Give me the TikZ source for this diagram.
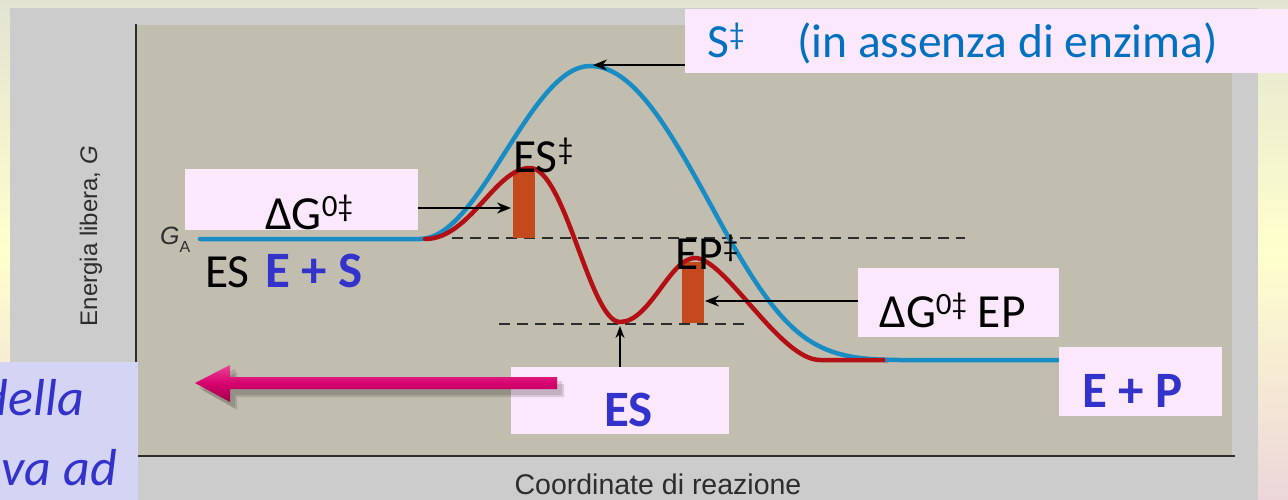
\documentclass[tikz,border=0pt]{standalone}
\usepackage{fontspec}
\setmainfont{Carlito}
\newfontfamily\arialf{Liberation Sans}
\usetikzlibrary{arrows.meta}
\definecolor{bgtop}{RGB}{227,227,211}
\definecolor{bgmid}{RGB}{255,255,205}
\definecolor{bgbot}{RGB}{236,214,218}
\definecolor{panel}{RGB}{204,204,204}
\definecolor{plotbg}{RGB}{193,190,175}
\definecolor{curveblue}{RGB}{25,140,195}
\definecolor{curvered}{RGB}{180,15,20}
\definecolor{barorange}{RGB}{196,73,28}
\definecolor{pinkbox}{RGB}{252,232,252}
\definecolor{lavbox}{RGB}{212,212,244}
\definecolor{txtblue}{RGB}{51,51,204}
\definecolor{sblue}{RGB}{0,112,192}
\definecolor{magA}{RGB}{235,70,150}
\definecolor{magB}{RGB}{214,0,110}
\definecolor{magC}{RGB}{160,0,75}
\definecolor{axisgray}{RGB}{45,45,45}
\newcommand\supdg{\raisebox{13pt}{\fontsize{31}{31}\selectfont 0‡}}
\newcommand\supd{\raisebox{13pt}{\fontsize{31}{31}\selectfont ‡}}
\begin{document}
\begin{tikzpicture}[x=1pt,y=-1pt,
  big/.style={font=\fontsize{47.5}{50}\selectfont, inner sep=0pt, anchor=base west},
  bigbold/.style={font=\fontsize{51}{54}\selectfont\bfseries, text=txtblue, inner sep=0pt, anchor=base west},
  pbox/.style={fill=pinkbox, draw=none},
  curve/.style={line width=4.5pt, line cap=round, line join=round},
  ptr/.style={line width=1.8pt, -{Stealth[length=14pt,width=11pt]}},
  dline/.style={line width=1.6pt, axisgray, dash pattern=on 11pt off 7pt},
  axisline/.style={line width=2pt, axisgray},
  barfill/.style={fill=barorange, draw=none},
  lavtxt/.style={font=\fontsize{52}{54}\selectfont\itshape, text=txtblue, anchor=base east, inner sep=0pt}]
\useasboundingbox (0,0) rectangle (1288,500);
% background
\fill[top color=bgtop, bottom color=bgbot, middle color=bgmid] (0,0) rectangle (1288,500);
\fill[panel] (10,8) rectangle (1258,500);
\fill[plotbg] (137,25) rectangle (1232,455);
% axes
\draw[axisline] (136,24) -- (136,456) -- (1235,456);
\node[font=\fontsize{24}{24}\selectfont\arialf, text=axisgray, rotate=90, anchor=base, inner sep=0pt] (ylab) at (97,236) {Energia libera, \textit{G}};
\node[font=\fontsize{28.5}{28.5}\selectfont\arialf, text=axisgray, anchor=base, inner sep=0pt] (xlab) at (658,494) {Coordinate di reazione};
\node[font=\fontsize{25}{25}\selectfont\arialf, text=axisgray, anchor=base west, inner sep=0pt] (ga) at (160,244) {\textit{G}\raisebox{-8pt}{\fontsize{16}{16}\selectfont A}};
% dashed lines
\coordinate (d1a) at (452,238); \coordinate (d1b) at (965,238);
\coordinate (d2a) at (499,324); \coordinate (d2b) at (747,324);
\draw[dline] (d1a) -- (d1b);
\draw[dline] (d2a) -- (d2b);
% bars
\fill[barfill] (513,172) rectangle (535,238);
\fill[barfill] (682,262) rectangle (704,323);
% blue curve
\draw[curve, curveblue] (200,239) -- (420,239) .. controls (480,239) and (530,66) .. (590,66)
  .. controls (640,66) and (680,150) .. (730,240)
  .. controls (790,345) and (820,360) .. (900,360) -- (1058,360);
% red curve
\draw[curve, curvered] (425,239) .. controls (470,239) and (495,168) .. (530,168)
  .. controls (565,168) and (590,322) .. (620,322)
  .. controls (650,322) and (670,258) .. (695,258)
  .. controls (725,258) and (780,360) .. (820,360) -- (888,360);
% blue overlays red at flat end
\draw[line width=4.5pt, curveblue] (885,360) -- (1058,360);
% labels on curves
\node[big] (esd) at (513,172) {ES\supd};
\node[big] (epd) at (675,269) {EP\supd};
\node[big] (es0) at (205,287) {ES};
\node[bigbold] (es1) at (265,287) {E + S};
% pink boxes
\node[pbox, minimum width=603pt, minimum height=64pt, anchor=north west, inner sep=0pt] (sbox) at (685,9) {};
\node[big, text=sblue] (stxt) at (707,58) {\makebox[90pt][l]{S\supd}(in assenza di enzima)};
\node[pbox, minimum width=233pt, minimum height=61pt, anchor=north west, inner sep=0pt] (gbox) at (185,169) {};
\node[big] (gtxt) at (265,229) {ΔG\supdg};
\node[pbox, minimum width=201pt, minimum height=69pt, anchor=north west, inner sep=0pt] (epbox) at (858,268) {};
\node[big] (eptxt) at (879,327) {ΔG\supdg{} EP};
\node[pbox, minimum width=163pt, minimum height=69pt, anchor=north west, inner sep=0pt] (epbox2) at (1059,347) {};
\node[bigbold] (eptxt2) at (1082,407) {E + P};
\node[pbox, minimum width=218pt, minimum height=67pt, anchor=north west, inner sep=0pt] (esbox) at (511,367) {};
\node[bigbold] (estxt) at (604,426) {ES};
% pointer arrows
\coordinate (pk) at (593,65);
\coordinate (esbar) at (511,208);
\coordinate (epbar) at (705,301);
\coordinate (esmin) at (620,326);
\draw[ptr] (sbox.west |- pk) -- (pk);
\draw[ptr] (gbox.east |- esbar) -- (esbar);
\draw[ptr] (epbox.west |- epbar) -- (epbar);
\draw[line width=1.5pt, -{Stealth[length=12pt,width=9pt]}] (esmin |- esbox.north) -- (esmin);
% magenta arrow
\fill[black, opacity=0.12] (199,388) -- (235,369) -- (235,381) -- (562,381) -- (562,395) -- (235,395) -- (235,408) -- cycle;
\fill[black, opacity=0.12] (202,390) -- (237,372) -- (237,384) -- (564,384) -- (564,397) -- (237,397) -- (237,410) -- cycle;
\shade[top color=magA, bottom color=magC, middle color=magB] (195,383) -- (230,365) -- (230,377) -- (557,377) -- (557,389) -- (230,389) -- (230,402) -- cycle;
% lavender box
\begin{scope}
\clip (0,362) rectangle (138,500);
\fill[lavbox] (0,362) rectangle (138,500);
\node[lavtxt] (lv1) at (84,415) {della};
\node[lavtxt] (lv2) at (117,485) {va ad};
\end{scope}
\end{tikzpicture}
\end{document}
